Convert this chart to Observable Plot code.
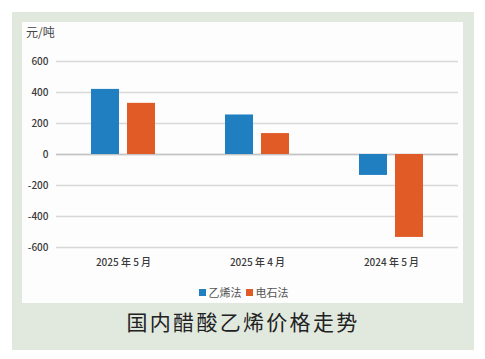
<!DOCTYPE html>
<html>
<head>
<meta charset="utf-8">
<script src="https://cdn.jsdelivr.net/npm/d3@7"></script>
<script src="https://cdn.jsdelivr.net/npm/@observablehq/plot@0.6"></script>
<style>
  body { margin: 0; background: #ffffff; font-family: "Noto Sans CJK SC", "Noto Sans", sans-serif; }
  #outer { position: absolute; left: 12px; top: 12px; width: 462px; height: 338px; background: #e1e9df; }
  #panel { position: absolute; left: 10px; top: 10px; width: 441px; height: 281px; background: #fdfdfd; }
  #unit { position: absolute; left: 4px; top: 1px; font-size: 12px; color: #444; }
  #chart { position: absolute; left: 0; top: 0; }
  #legend { position: absolute; left: 3px; top: 262px; width: 441px; display: flex; justify-content: center; }
  .leg-swatches { font-family: "Noto Sans CJK SC", sans-serif !important; font-size: 11px !important; color: #555; min-height: 16px !important; margin: 0 !important; }
  .leg-swatch { margin-right: 4px !important; }
  .leg-swatch svg { margin-right: 3px !important; }
  #title { position: absolute; left: 0; top: 281px; width: 462px; height: 57px; line-height: 57px; text-align: center; font-size: 21px; letter-spacing: 2.3px; color: #222; }
</style>
</head>
<body>
<div id="outer">
  <div id="panel">
    <div id="chart"></div>
    <div id="unit">元/吨</div>
    <div id="legend"></div>
  </div>
  <div id="title">国内醋酸乙烯价格走势</div>
</div>
<script>
const months = ["2025 年 5 月", "2025 年 4 月", "2024 年 5 月"];
const series = ["乙烯法", "电石法"];
const ethylene = [420, 255, -135];
const carbide = [330, 135, -535];
const yTicks = [-600, -400, -200, 0, 200, 400, 600];
const colors = ["#1f7fc0", "#e05b26"];

const data = [];
months.forEach((m, i) => {
  data.push({month: m, series: series[0], value: ethylene[i]});
  data.push({month: m, series: series[1], value: carbide[i]});
});

const chart = Plot.plot({
  width: 441,
  height: 260,
  marginLeft: 34,
  marginRight: 5,
  marginTop: 39,
  marginBottom: 35,
  style: {background: "transparent", fontFamily: "'Noto Sans CJK SC', sans-serif", fontSize: "10px", color: "#3a3a3a", fontWeight: 500},
  fx: {domain: months, padding: 0, label: null, axis: "bottom", tickSize: 0, tickPadding: 11},
  x: {domain: series, axis: null, paddingInner: 0.22, paddingOuter: 0.97},
  y: {domain: [-600, 600], ticks: yTicks, tickSize: 0, tickPadding: 8, label: null, tickFormat: d => String(d)},
  color: {domain: series, range: colors},
  marks: [
    Plot.gridY(yTicks, {stroke: "#d8d8d8", strokeWidth: 1.5, strokeOpacity: 1}),
    Plot.ruleY([0], {stroke: "#c4c4c4", strokeWidth: 1.5}),
    Plot.barY(data, {fx: "month", x: "series", y: "value", fill: "series"})
  ]
});
document.getElementById("chart").append(chart);

const legend = Plot.legend({
  color: {domain: series, range: colors},
  swatchSize: 7,
  className: "leg"
});
document.getElementById("legend").append(legend);
</script>
</body>
</html>
